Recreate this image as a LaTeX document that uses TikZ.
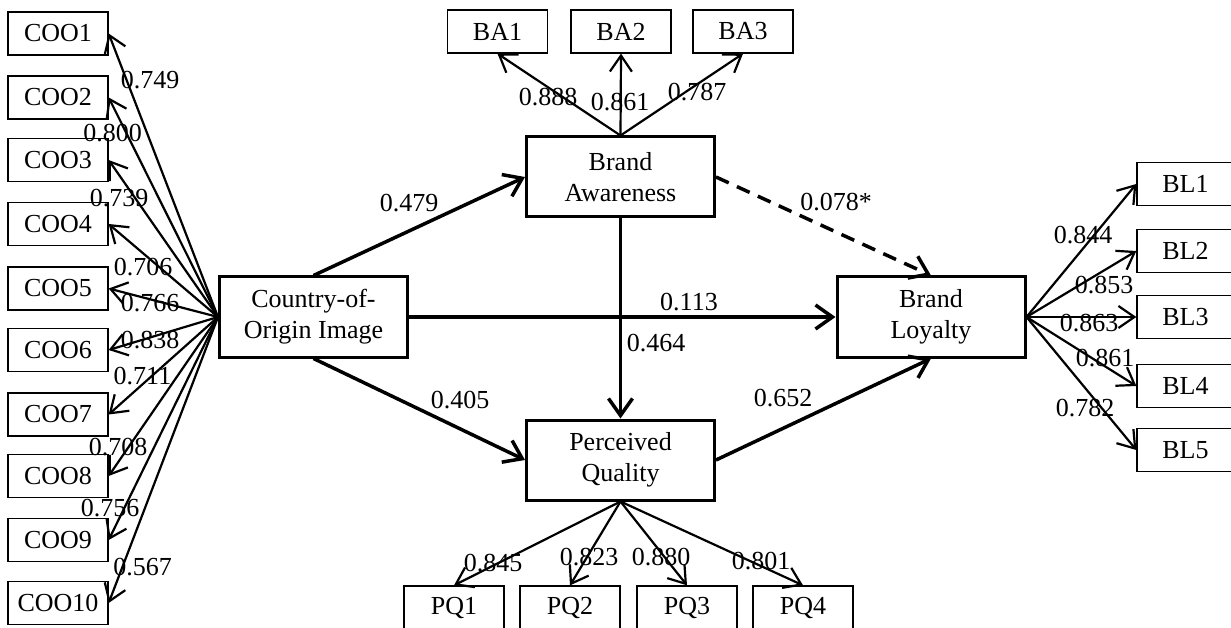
\documentclass[tikz,border=0pt]{standalone}
\usepackage{fontspec}
\setmainfont{Liberation Serif}
\usetikzlibrary{arrows.meta}
\tikzset{
  ind/.style={draw, line width=1.3pt, minimum width=100pt, minimum height=43pt, inner sep=0pt, font=\fontsize{26}{31}\selectfont},
  lat/.style={draw, line width=3pt, minimum width=188pt, minimum height=80pt, inner sep=0pt, align=center, font=\fontsize{26}{31}\selectfont},
  lab/.style={inner sep=0pt, font=\fontsize{26}{31}\selectfont},
  meas/.style={line width=2.2pt, -{Straight Barb[length=16pt, width=22pt, line width=2.2pt]}},
  path/.style={line width=3.5pt, -{Straight Barb[length=17pt, width=24pt, line width=3.5pt]}},
}
\begin{document}
\begin{tikzpicture}[x=1pt, y=-1pt]
\useasboundingbox (0,0) rectangle (1231,628);
% latent constructs
\node[lat] (cooi) at (313.5,317) {Country-of-\\Origin Image};
\node[lat] (ba) at (620.5,177) {Brand\\Awareness};
\node[lat] (pq) at (620.5,460) {Perceived\\Quality};
\node[lat] (bl) at (931,317) {Brand\\Loyalty};
% COO indicators
\node[ind] (c1) at (58,33.5) {COO1};
\node[ind] (c2) at (58,97.5) {COO2};
\node[ind] (c3) at (58,160) {COO3};
\node[ind] (c4) at (58,224) {COO4};
\node[ind] (c5) at (58,288.5) {COO5};
\node[ind] (c6) at (58,350) {COO6};
\node[ind] (c7) at (58,414.5) {COO7};
\node[ind] (c8) at (58,476) {COO8};
\node[ind] (c9) at (58,540) {COO9};
\node[ind] (c10) at (58,603) {COO10};
% BA indicators
\node[ind] (a1) at (497.5,31.5) {BA1};
\node[ind] (a2) at (621,31.5) {BA2};
\node[ind] (a3) at (743,31.5) {BA3};
% PQ indicators
\node[ind] (q1) at (454,607.5) {PQ1};
\node[ind] (q2) at (570,607.5) {PQ2};
\node[ind] (q3) at (687,607.5) {PQ3};
\node[ind] (q4) at (803,607.5) {PQ4};
% BL indicators
\node[ind, minimum width=97pt] (l1) at (1185.5,184) {BL1};
\node[ind, minimum width=97pt] (l2) at (1185.5,251) {BL2};
\node[ind, minimum width=97pt] (l3) at (1185.5,317) {BL3};
\node[ind, minimum width=97pt] (l4) at (1185.5,386) {BL4};
\node[ind, minimum width=97pt] (l5) at (1185.5,450) {BL5};
% measurement arrows
\foreach \i in {1,...,10} \draw[meas] (cooi.west) -- (c\i.east);
\foreach \i in {1,2,3} \draw[meas] (ba.north) -- (a\i.south);
\foreach \i in {1,2,3,4} \draw[meas] (pq.south) -- (q\i.north);
\foreach \i in {1,...,5} \draw[meas] (bl.east) -- (l\i.west);
% structural paths
\draw[path] (cooi.north) -- (ba.west);
\draw[path] (cooi.south) -- (pq.west);
\draw[path] (cooi.east) -- (bl.west);
\draw[path] (ba.south) -- (pq.north);
\draw[path, dash pattern=on 14pt off 9pt] (ba.east) -- (bl.north);
\draw[path] (pq.east) -- (bl.south);
% loading labels
\node[lab] (lc1) at (150,80) {0.749};
\node[lab] (lc2) at (112.5,133) {0.800};
\node[lab] (lc3) at (119,198) {0.739};
\node[lab] (lc4) at (143,267) {0.706};
\node[lab] (lc5) at (150,303) {0.766};
\node[lab] (lc6) at (150,340) {0.838};
\node[lab] (lc7) at (142.5,376) {0.711};
\node[lab] (lc8) at (118,447) {0.708};
\node[lab] (lc9) at (110,508) {0.756};
\node[lab] (lc10) at (142.5,567) {0.567};
\node[lab] (la1) at (548,97) {0.888};
\node[lab] (la2) at (620,102) {0.861};
\node[lab] (la3) at (697,92) {0.787};
\node[lab] (lq1) at (493,563) {0.845};
\node[lab] (lq2) at (589,557) {0.823};
\node[lab] (lq3) at (661,557) {0.880};
\node[lab] (lq4) at (761,561) {0.801};
\node[lab] (ll1) at (1083,235) {0.844};
\node[lab] (ll2) at (1104,285) {0.853};
\node[lab] (ll3) at (1089,323) {0.863};
\node[lab] (ll4) at (1105,358) {0.861};
\node[lab] (ll5) at (1085,408) {0.782};
% path labels
\node[lab] (p1) at (409,203) {0.479};
\node[lab] (p2) at (689,302) {0.113};
\node[lab] (p3) at (656,343) {0.464};
\node[lab] (p4) at (460,400) {0.405};
\node[lab] (p5) at (783,398) {0.652};
\node[lab] (p6) at (836,202) {0.078*};
\end{tikzpicture}
\end{document}
